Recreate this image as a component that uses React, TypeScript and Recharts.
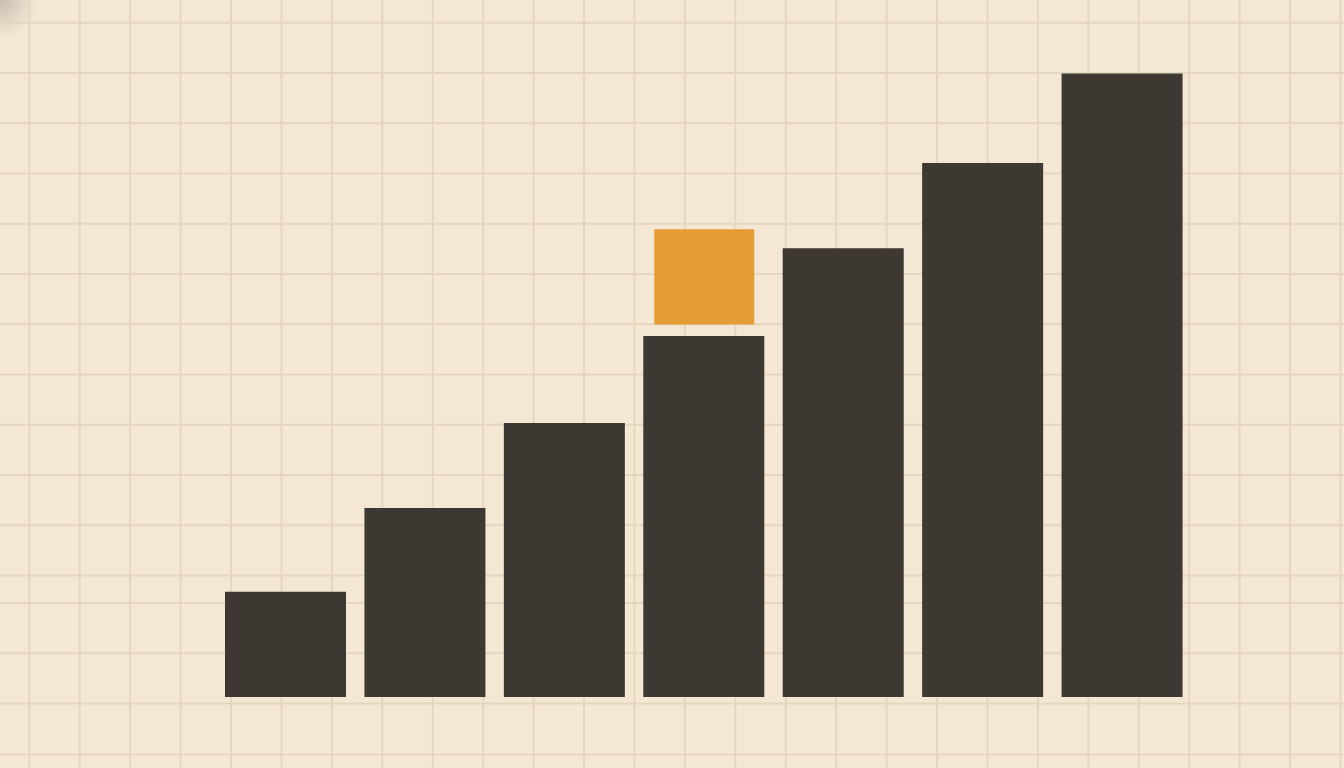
import { BarChart, Bar, XAxis, YAxis, CartesianGrid, Cell } from 'recharts';

const C = {
  paper: '#F4E8D5',
  grid: '#E5D6BF',
  ink: '#3D3832',
  amber: '#E59C35',
};

// arbitrary units (0 = baseline)
const steps = ['1', '2', '3', '4', '5', '6', '7'];
const heights = [12.15, 21.8, 31.6, 41.65, 51.75, 61.6, 71.9];
// floating highlight block above step 4
const accent: Array<[number, number] | null> = [null, null, null, [42.95, 53.95], null, null, null];

const data = steps.map((s, i) => ({ step: s, value: heights[i], accent: accent[i] }));

const W = 1344;
const H = 768;
const PAD = { left: 216, right: 152 };

// graph paper lines (pixel positions, paper sheet has a shifted lower block)
const vLines = Array.from({ length: 27 }, (_, k) => 29.3 + k * 50.43);
const hLines = [
  ...Array.from({ length: 12 }, (_, k) => 22.7 + k * 50.25),
  603, 653.3, 703.6, 754.5,
];

export default function App() {
  return (
    <div
      style={{
        position: 'absolute', left: 0, top: 0, width: W, height: H,
        background: `radial-gradient(circle at 0 0, rgba(120,112,102,0.35), rgba(120,112,102,0) 38px), ${C.paper}`,
        overflow: 'hidden',
      }}
    >
      <BarChart width={W} height={H} data={data} margin={{ top: 0, right: 0, bottom: 0, left: 0 }}>
        <CartesianGrid
          stroke={C.grid}
          strokeWidth={2}
          verticalPoints={vLines}
          horizontalPoints={hLines}
        />
        <XAxis dataKey="step" hide padding={PAD} />
        <XAxis dataKey="step" xAxisId="hi" hide padding={PAD} />
        <YAxis hide domain={[-8.19, 80.39]} allowDataOverflow />
        <Bar dataKey="value" barSize={121} fill={C.ink} isAnimationActive={false}>
          {data.map((_, i) => <Cell key={i} fill={C.ink} />)}
        </Bar>
        <Bar dataKey="accent" xAxisId="hi" barSize={100} fill={C.amber} isAnimationActive={false} />
      </BarChart>
    </div>
  );
}
